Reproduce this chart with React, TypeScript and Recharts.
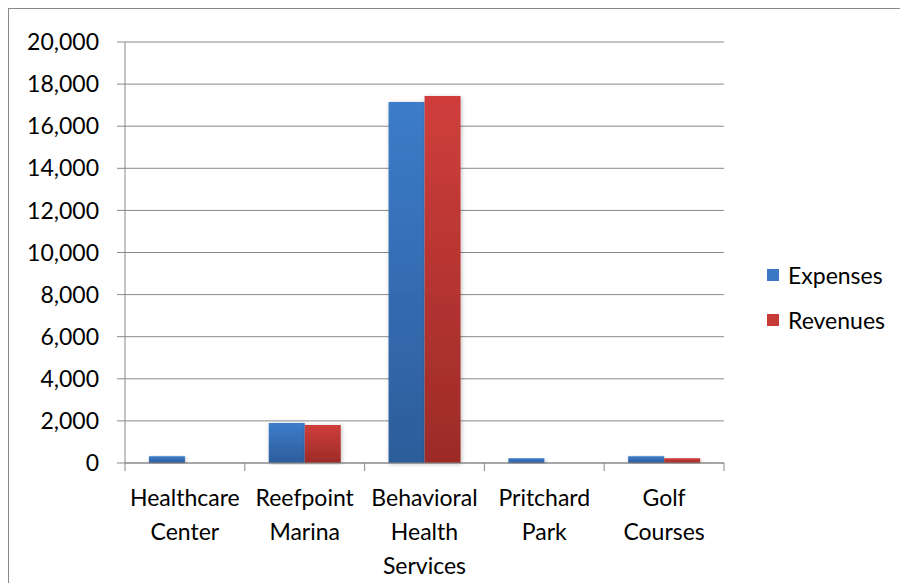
import React from 'react';
import { BarChart, Bar, XAxis, YAxis, CartesianGrid } from 'recharts';

// categories and values
const categories = ['Healthcare Center', 'Reefpoint Marina', 'Behavioral Health Services', 'Pritchard Park', 'Golf Courses'];
const expenses = [320, 1900, 17150, 220, 320];
const revenues = [0, 1810, 17430, 0, 220];
const yTicks = [0, 2000, 4000, 6000, 8000, 10000, 12000, 14000, 16000, 18000, 20000];
const seriesNames = ['Expenses', 'Revenues'];
const seriesColors = ['#3a78c6', '#c93b38'];

const data = categories.map((name, i) => ({
  name,
  Expenses: expenses[i],
  Revenues: revenues[i],
}));

const CHART_W = 899;
const CHART_H = 574;
const MARGIN = { top: 33, right: 184, bottom: 0, left: 0 };
const Y_AXIS_W = 116;
const BAND = (CHART_W - MARGIN.left - MARGIN.right - Y_AXIS_W) / categories.length;
const FONT = 'Lato, "Open Sans", sans-serif';
const AXIS_GREY = '#898989';

// category label, one word per line, plus the tick marks between categories
const CategoryTick = (props: any) => {
  const { x, y, payload, index } = props;
  const words = String(payload.value).split(' ');
  const last = index === categories.length - 1;
  return (
    <g>
      <line x1={x - BAND / 2} x2={x - BAND / 2} y1={y} y2={y + 8} stroke={AXIS_GREY} />
      {last && <line x1={x + BAND / 2} x2={x + BAND / 2} y1={y} y2={y + 8} stroke={AXIS_GREY} />}
      <text x={x} y={y + 43} textAnchor="middle" fill="#000" fontSize={23} fontFamily={FONT}>
        {words.map((w, i) => (
          <tspan key={w} x={x} dy={i === 0 ? 0 : 34}>{w}</tspan>
        ))}
      </text>
    </g>
  );
};

const App: React.FC = () => {
  return (
    <div
      style={{
        position: 'relative',
        width: CHART_W,
        height: CHART_H,
        borderLeft: '1px solid #888',
        borderTop: '1px solid #888',
        background: '#fff',
      }}
    >
      <BarChart
        width={CHART_W}
        height={CHART_H}
        data={data}
        margin={MARGIN}
        barCategoryGap="20%"
        barGap={0}
      >
        <defs>
          <linearGradient id="gradExp" x1="0" y1="0" x2="0" y2="1">
            <stop offset="0%" stopColor="#3c7cca" />
            <stop offset="100%" stopColor="#2c5d9b" />
          </linearGradient>
          <linearGradient id="gradRev" x1="0" y1="0" x2="0" y2="1">
            <stop offset="0%" stopColor="#cf3e3b" />
            <stop offset="100%" stopColor="#9c2b28" />
          </linearGradient>
          <filter id="barShadow" x="-20%" y="-5%" width="140%" height="110%">
            <feDropShadow dx="1" dy="1" stdDeviation="2" floodColor="#000" floodOpacity="0.25" />
          </filter>
        </defs>
        <CartesianGrid horizontal vertical={false} stroke={AXIS_GREY} />
        <XAxis
          dataKey="name"
          interval={0}
          height={120}
          tickLine={false}
          tickSize={0}
          tickMargin={0}
          axisLine={{ stroke: AXIS_GREY }}
          tick={<CategoryTick />}
        />
        <YAxis
          width={Y_AXIS_W}
          domain={[0, 20000]}
          ticks={yTicks}
          interval={0}
          tickSize={8}
          tickMargin={18}
          axisLine={{ stroke: AXIS_GREY }}
          tickLine={{ stroke: AXIS_GREY }}
          tick={{ fill: '#000', fontSize: 23, fontFamily: FONT }}
          tickFormatter={(v: number) => v.toLocaleString('en-US')}
        />
        <Bar dataKey="Expenses" fill="url(#gradExp)" filter="url(#barShadow)" isAnimationActive={false} />
        <Bar dataKey="Revenues" fill="url(#gradRev)" filter="url(#barShadow)" isAnimationActive={false} />
      </BarChart>

      <div style={{ position: 'absolute', left: 758, top: 254, fontFamily: FONT, fontSize: 23, color: '#000' }}>
        {seriesNames.map((name, i) => (
          <div key={name} style={{ display: 'flex', alignItems: 'center', height: 24, marginBottom: i === 0 ? 21 : 0 }}>
            <span style={{ display: 'inline-block', width: 12, height: 12, background: seriesColors[i], marginRight: 9 }} />
            <span>{name}</span>
          </div>
        ))}
      </div>
    </div>
  );
};

export default App;
